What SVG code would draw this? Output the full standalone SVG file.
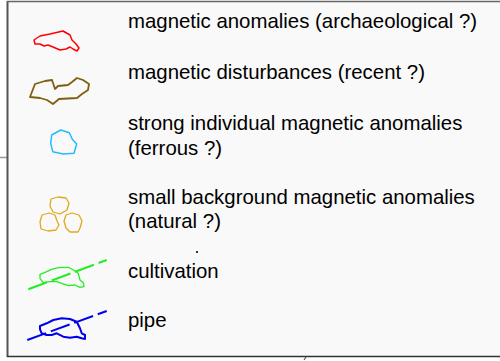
<svg xmlns="http://www.w3.org/2000/svg" width="500" height="361" viewBox="0 0 500 361">
<style>
text{font-family:"Liberation Sans",Arial,sans-serif;font-size:20.4px;fill:#000}
.sym{fill:none;stroke-linejoin:round;stroke-linecap:round}
</style>
<rect x="0" y="0" width="500" height="361" fill="#ffffff"/>
<rect x="8" y="2" width="492" height="354" fill="#f9f9f9"/>
<line x1="0" y1="157.5" x2="8" y2="157.5" stroke="#999" stroke-width="1.5"/>
<line x1="7.5" y1="1" x2="7.5" y2="357" stroke="#555" stroke-width="2"/>
<line x1="7" y1="1.5" x2="500" y2="1.5" stroke="#666" stroke-width="1.5"/>
<line x1="7" y1="356.5" x2="500" y2="356.5" stroke="#333" stroke-width="1.5"/>
<g id="archaeological">
<path class="sym" stroke="#ff0000" stroke-width="1.5" d="M34,40 L40,36 L50,34 L63,31 L70,35 L72,40 L76,44 L79,48 L77,51 L73,49 L70,47 L66,49 L60,50 L53,47 L48,45 L44,46 L40,44 L35,44 Z"/>
<text x="128" y="28">magnetic anomalies (archaeological ?)</text>
</g>
<g id="recent">
<path class="sym" stroke="#7f6010" stroke-width="1.8" d="M30,97 L35,84 L45,81 L52,80 L55,89 L58,86 L68,85 L72,82 L77,78 L83,80 L89,84 L88,90 L82,94 L77,98 L59,99 L53,104 L47,100 L40,98 Z"/>
<text x="128" y="79">magnetic disturbances (recent ?)</text>
</g>
<g id="ferrous">
<path class="sym" stroke="#22bbff" stroke-width="1.5" d="M51.7,135 L60.7,130 L69.3,132.7 L72.3,139.3 L76.7,144 L74,153.3 L63.3,154 L52.7,151.7 L50.7,143.3 Z"/>
<text x="128" y="130">strong individual magnetic anomalies</text>
<text x="128" y="155">(ferrous ?)</text>
</g>
<g id="natural">
<path class="sym" stroke="#e0a820" stroke-width="1.3" d="M51,199 L58,197 L66,198 L69,203 L67,210 L60,214 L53,212 L50,206 Z"/>
<path class="sym" stroke="#e0a820" stroke-width="1.3" d="M42,215 L49,213 L55,215 L57,221 L59,225 L56,230 L48,231 L41,229 L40,222 Z"/>
<path class="sym" stroke="#e0a820" stroke-width="1.3" d="M66,215 L72,213 L79,215 L82,221 L80,228 L78,232 L70,232 L66,228 L64,221 Z"/>
<text x="128" y="204">small background magnetic anomalies</text>
<text x="128" y="228">(natural ?)</text>
</g>
<g id="cultivation">
<path class="sym" stroke="#22ee22" stroke-width="1.3" d="M40,274.3 L46.7,271.7 L51.7,269.3 L58.3,267.7 L68.3,267.3 L73.3,270 L78.3,273.3 L80,280 L83.3,282.7 L84,286.7 L80,287.3 L75,285 L68.3,285.7 L61.7,283.3 L56.7,281.7 L50,281.7 L43.3,282.7 L40,278.3 Z"/>
<text x="128" y="278">cultivation</text>
</g>
<g id="pipe">
<path class="sym" stroke="#0000ee" stroke-width="2" d="M40,326 L46.7,323.3 L53.3,320 L61.7,318.3 L70,319 L76.7,321.7 L80,328.3 L81.7,333.3 L85,335 L85,339 L81.7,338.3 L76.7,336.7 L70,337.7 L63.3,336.7 L56.7,333.3 L51.7,335 L46.7,335 L41.7,333.3 L40,329.3 Z"/>
<text x="128" y="327">pipe</text>
</g>
<g id="connectors">
<line x1="28.3" y1="289.3" x2="106.7" y2="260" stroke="#22ee22" stroke-width="2" stroke-dasharray="20,5"/>
<line x1="27.3" y1="340" x2="106.7" y2="311" stroke="#0000ee" stroke-width="2" stroke-dasharray="20,5"/>
</g>
<rect x="196" y="251" width="2" height="2" fill="#333"/>
<path d="M304,360 L306,357" stroke="#555" stroke-width="1.2"/>
</svg>
